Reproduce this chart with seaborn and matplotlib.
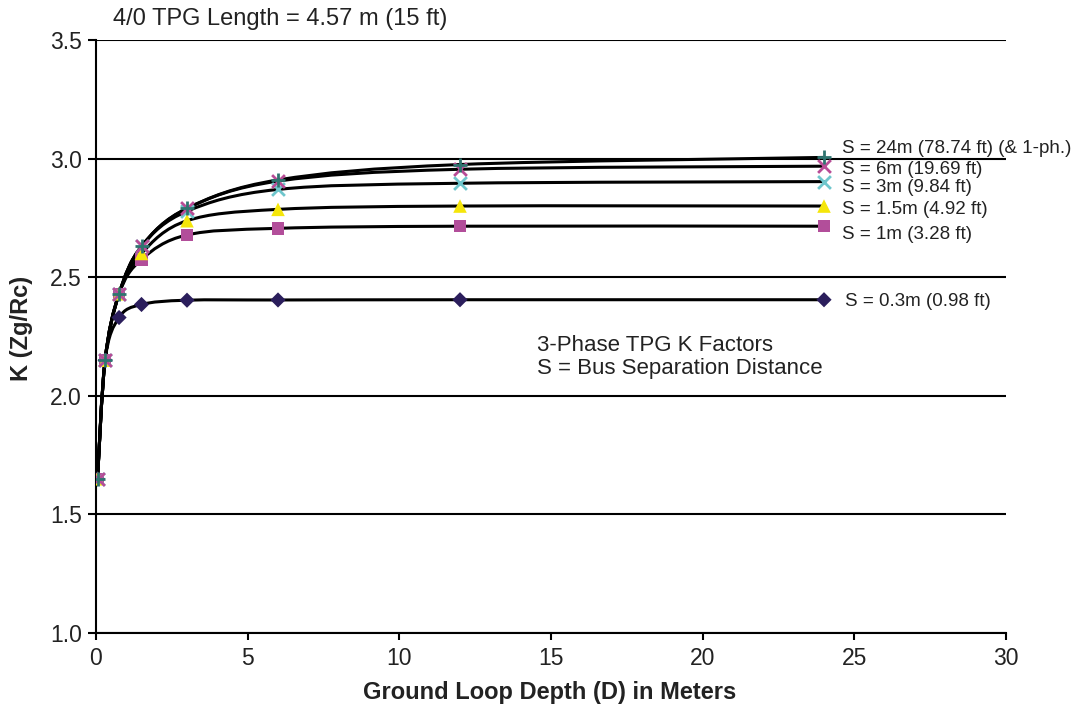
import numpy as np
import pandas as pd
import matplotlib
matplotlib.use("Agg")
import matplotlib.pyplot as plt
import seaborn as sns
from matplotlib.path import Path
from matplotlib.patches import PathPatch

# ---------------- data ----------------
depth = [0.05, 0.3, 0.76, 1.5, 3, 6, 12, 24]
k_s03 = [1.65, 2.15, 2.33, 2.385, 2.403, 2.404, 2.405, 2.405]
k_s1 = [1.65, 2.15, 2.43, 2.575, 2.678, 2.706, 2.715, 2.715]
k_s15 = [1.65, 2.15, 2.43, 2.600, 2.738, 2.786, 2.800, 2.800]
k_s3 = [1.65, 2.15, 2.43, 2.630, 2.778, 2.870, 2.896, 2.903]
k_s6 = [1.65, 2.15, 2.43, 2.630, 2.790, 2.905, 2.955, 2.968]
k_s24 = [1.65, 2.15, 2.43, 2.630, 2.790, 2.910, 2.975, 3.005]

series_names = ["S = 0.3m (0.98 ft)", "S = 1m (3.28 ft)", "S = 1.5m (4.92 ft)",
                "S = 3m (9.84 ft)", "S = 6m (19.69 ft)",
                "S = 24m (78.74 ft) (& 1-ph.)"]
series_values = [k_s03, k_s1, k_s15, k_s3, k_s6, k_s24]
label_y = [2.397, 2.678, 2.786, 2.879, 2.952, 3.043]

x_ticks = [0, 5, 10, 15, 20, 25, 30]
y_ticks = [1.0, 1.5, 2.0, 2.5, 3.0, 3.5]

title_text = "4/0 TPG Length = 4.57 m (15 ft)"
note_lines = ["3-Phase TPG K Factors", "S = Bus Separation Distance"]
x_label = "Ground Loop Depth (D) in Meters"
y_label = "K (Zg/Rc)"

# ---------------- styles ----------------
styles = [
    dict(marker="D", color="#2B1E5C", s=60, lw=0),
    dict(marker="s", color="#B24E9A", s=80, lw=0),
    dict(marker="^", color="#F5E60A", s=95, lw=0),
    dict(marker="x", color="#6EC6CC", s=85, lw=2.0),
    dict(marker="x", color="#B84C96", s=85, lw=2.0),
    dict(marker="+", color="#2E7470", s=110, lw=2.0),
]

sns.set_theme(style="white")
plt.rcParams["font.family"] = ["Liberation Sans", "DejaVu Sans"]

W, H = 1075, 711
fig = plt.figure(figsize=(W / 100, H / 100), dpi=100)
ax = fig.add_axes([96 / W, 1 - 633 / H, 910 / W, 593 / H])


def smooth_path(xs, ys, t=1 / 6):
    pts = np.column_stack([xs, ys]).astype(float)
    n = len(pts)
    verts = [pts[0]]
    codes = [Path.MOVETO]
    for i in range(n - 1):
        p_prev = pts[i - 1] if i > 0 else pts[i]
        p0, p1 = pts[i], pts[i + 1]
        p_next = pts[i + 2] if i + 2 < n else pts[i + 1]
        c1 = p0 + (p1 - p_prev) * t
        c2 = p1 - (p_next - p0) * t
        verts += [c1, c2, p1]
        codes += [Path.CURVE4] * 3
    return Path(verts, codes)


# smoothed black curves
for vals in series_values:
    ax.add_patch(PathPatch(smooth_path(depth, vals), fill=False,
                           edgecolor="black", lw=2.2, zorder=2,
                           capstyle="round", joinstyle="round"))

# coloured markers
for name, vals, st in zip(series_names, series_values, styles):
    df = pd.DataFrame({"depth": depth, "k": vals})
    if st["marker"] in ("x", "+"):
        sns.scatterplot(data=df, x="depth", y="k", marker=st["marker"],
                        color=st["color"], s=st["s"], linewidth=st["lw"],
                        ax=ax, zorder=3, legend=False)
    else:
        sns.scatterplot(data=df, x="depth", y="k", marker=st["marker"],
                        color=st["color"], s=st["s"], linewidth=0,
                        edgecolor="none", ax=ax, zorder=3, legend=False)

# right-side series labels
for name, ly in zip(series_names, label_y):
    lx = 24.7 if name.startswith("S = 0.3") else 24.6
    ax.text(lx, ly, name, fontsize=13.5, va="center", ha="left",
            color="#222222", clip_on=False)

# note in the middle
ax.text(14.54, 2.214, note_lines[0], fontsize=16, va="center", ha="left", color="#222222")
ax.text(14.54, 2.117, note_lines[1], fontsize=16, va="center", ha="left", color="#222222")

# axes cosmetics
ax.set_xlim(0, 30)
ax.set_ylim(1.0, 3.5)
ax.set_xticks(x_ticks)
ax.set_xticklabels([str(v) for v in x_ticks])
ax.set_yticks(y_ticks)
ax.set_yticklabels([f"{v:.1f}" for v in y_ticks])
ax.yaxis.grid(True, color="black", lw=1.5)
ax.xaxis.grid(False)
ax.set_axisbelow(True)
for side in ("top", "right"):
    ax.spines[side].set_visible(False)
for side in ("left", "bottom"):
    ax.spines[side].set_color("black")
    ax.spines[side].set_linewidth(1.5)
ax.tick_params(axis="y", direction="out", length=6, width=1.5, color="black",
               labelsize=16.5, pad=4, left=True, labelcolor="#222222")
ax.tick_params(axis="x", direction="out", length=5, width=1.5, color="black",
               labelsize=16.5, pad=5, bottom=True, labelcolor="#222222")

ax.set_xlabel(x_label, fontsize=17, fontweight="bold", color="#222222", va="center")
ax.set_ylabel(y_label, fontsize=17, fontweight="bold", color="#222222", va="center")
ax.xaxis.set_label_coords((550 - 96) / 910, -(692 - 633) / 593)
ax.yaxis.set_label_coords((22 - 96) / 910, (633 - 328) / 593)

fig.text(113 / W, 1 - 19 / H, title_text, fontsize=17, va="center", ha="left",
         color="#222222")

fig.savefig("out.png", dpi=100, facecolor="white")
